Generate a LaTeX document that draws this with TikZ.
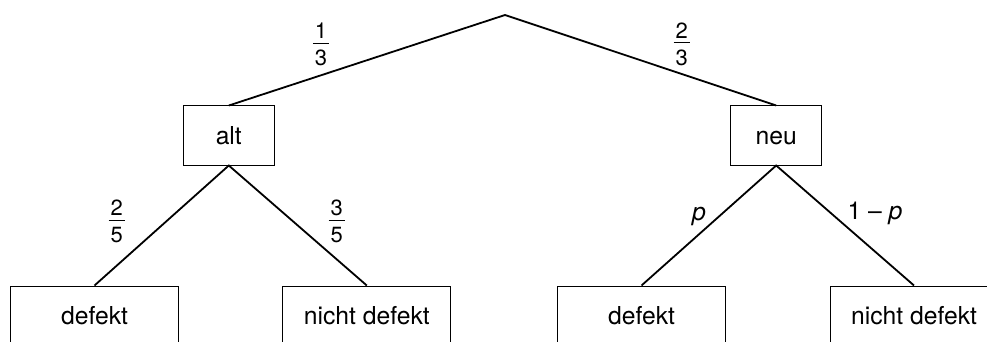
\documentclass[tikz,border=0pt]{standalone}
\usepackage{fontspec}
\setmainfont{TeX Gyre Heros}
\newcommand\myfr[2]{{\fontsize{22}{22}\selectfont\vbox{\offinterlineskip\halign{\kern2pt\hfil##\hfil\kern2pt\cr\vrule height 15.6pt width 0pt #1\cr\noalign{\kern4pt\hrule height 1.2pt\kern6pt}\vrule height 15.6pt width 0pt #2\cr}}}}
\begin{document}
\begin{tikzpicture}[x=1pt,y=-1pt,
  box/.style={draw, line width=1pt, inner sep=0pt, minimum height=59pt, text height=17.5pt, text depth=0pt, font=\fontsize{24.7}{26}\selectfont},
  small/.style={box, minimum width=91pt},
  wide/.style={box, minimum width=168pt},
  branch/.style={line width=1.8pt},
  lbl/.style={inner sep=0pt, font=\fontsize{24.7}{26}\selectfont}]
\useasboundingbox (0,0) rectangle (987,342);
\coordinate (root) at (505,15);
\node[small] (alt) at (228.8,135.5) {alt};
\node[small] (neu) at (776.2,135.5) {neu};
\node[wide] (d1) at (94.5,315.5) {defekt};
\node[wide] (n1) at (366.8,315.5) {nicht defekt};
\node[wide] (d2) at (641.5,315.5) {defekt};
\node[wide] (n2) at (914,315.5) {nicht defekt};
\draw[branch] (alt.north) -- (root) -- (neu.north);
\draw[branch] (d1.north) -- (alt.south) -- (n1.north);
\draw[branch] (d2.north) -- (neu.south) -- (n2.north);
\node[lbl] (f13) at (321,44.5) {\myfr{1}{3}};
\node[lbl] (f23) at (681.7,44) {\myfr{2}{3}};
\node[lbl] (f25) at (116.7,221.3) {\myfr{2}{5}};
\node[lbl] (f35) at (336.7,221.7) {\myfr{3}{5}};
\node[lbl, anchor=base] (lp) at (699,220) {\textit{p}};
\node[lbl, anchor=base] (lq) at (875,219.5) {1 – \textit{p}};
\end{tikzpicture}
\end{document}
